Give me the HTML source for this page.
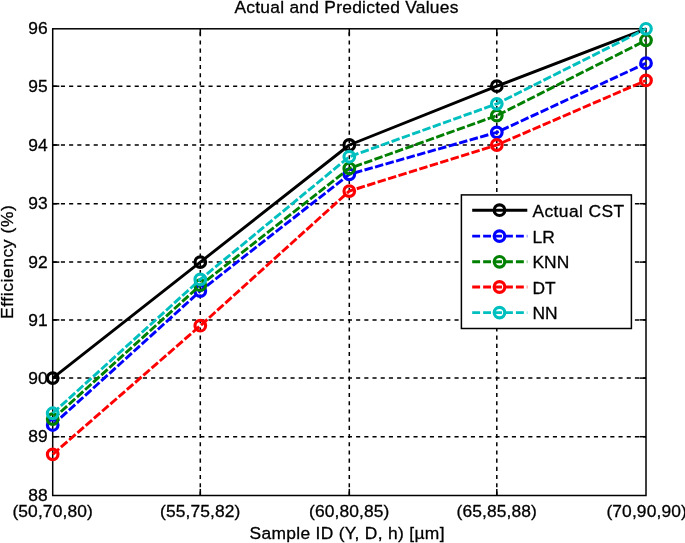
<!DOCTYPE html>
<html><head><meta charset="utf-8"><title>Actual and Predicted Values</title>
<style>
html,body{margin:0;padding:0;background:#fff;}
body{width:685px;height:543px;overflow:hidden;}
svg{display:block;}
text{font-family:"Liberation Sans",Arial,Helvetica,sans-serif;font-size:17.4px;fill:#000;stroke:#000;stroke-width:0.3px;}
</style></head><body>
<svg width="685" height="543" viewBox="0 0 685 543">
<rect x="0" y="0" width="685" height="543" fill="#ffffff"/>

<g stroke="#000" stroke-width="1.5" stroke-dasharray="4.1 4.1" fill="none">
<line x1="200.30" y1="495.50" x2="200.30" y2="28.80"/>
<line x1="349.30" y1="495.50" x2="349.30" y2="28.80"/>
<line x1="496.80" y1="495.50" x2="496.80" y2="28.80"/>
<line x1="52.70" y1="436.70" x2="646.00" y2="436.70"/>
<line x1="52.70" y1="378.10" x2="646.00" y2="378.10"/>
<line x1="52.70" y1="319.90" x2="646.00" y2="319.90"/>
<line x1="52.70" y1="262.10" x2="646.00" y2="262.10"/>
<line x1="52.70" y1="203.70" x2="646.00" y2="203.70"/>
<line x1="52.70" y1="145.00" x2="646.00" y2="145.00"/>
<line x1="52.70" y1="86.20" x2="646.00" y2="86.20"/>
</g>
<g stroke="#000" stroke-width="1.5" fill="none">
<rect x="52.70" y="28.80" width="593.30" height="466.70"/>
<line x1="200.30" y1="495.50" x2="200.30" y2="488.90"/>
<line x1="200.30" y1="28.80" x2="200.30" y2="35.40"/>
<line x1="349.30" y1="495.50" x2="349.30" y2="488.90"/>
<line x1="349.30" y1="28.80" x2="349.30" y2="35.40"/>
<line x1="496.80" y1="495.50" x2="496.80" y2="488.90"/>
<line x1="496.80" y1="28.80" x2="496.80" y2="35.40"/>
<line x1="52.70" y1="436.70" x2="59.30" y2="436.70"/>
<line x1="646.00" y1="436.70" x2="639.40" y2="436.70"/>
<line x1="52.70" y1="378.10" x2="59.30" y2="378.10"/>
<line x1="646.00" y1="378.10" x2="639.40" y2="378.10"/>
<line x1="52.70" y1="319.90" x2="59.30" y2="319.90"/>
<line x1="646.00" y1="319.90" x2="639.40" y2="319.90"/>
<line x1="52.70" y1="262.10" x2="59.30" y2="262.10"/>
<line x1="646.00" y1="262.10" x2="639.40" y2="262.10"/>
<line x1="52.70" y1="203.70" x2="59.30" y2="203.70"/>
<line x1="646.00" y1="203.70" x2="639.40" y2="203.70"/>
<line x1="52.70" y1="145.00" x2="59.30" y2="145.00"/>
<line x1="646.00" y1="145.00" x2="639.40" y2="145.00"/>
<line x1="52.70" y1="86.20" x2="59.30" y2="86.20"/>
<line x1="646.00" y1="86.20" x2="639.40" y2="86.20"/>
</g>
<polyline points="52.70,378.10 200.30,262.10 349.30,145.00 496.80,86.20 646.00,28.80" fill="none" stroke="#000000" stroke-width="2.9" stroke-linejoin="round"/>
<g fill="none" stroke="#000000" stroke-width="3.2">
<circle cx="52.70" cy="378.10" r="5.3"/>
<circle cx="200.30" cy="262.10" r="5.3"/>
<circle cx="349.30" cy="145.00" r="5.3"/>
<circle cx="496.80" cy="86.20" r="5.3"/>
</g>
<polyline points="52.70,424.98 200.30,291.00 349.30,174.35 496.80,132.36 646.00,63.24" fill="none" stroke="#0000ff" stroke-width="2.9" stroke-dasharray="8.5 2.43" stroke-linejoin="round"/>
<g fill="none" stroke="#0000ff" stroke-width="3.2">
<circle cx="52.70" cy="424.98" r="5.3"/>
<circle cx="200.30" cy="291.00" r="5.3"/>
<circle cx="349.30" cy="174.35" r="5.3"/>
<circle cx="496.80" cy="132.36" r="5.3"/>
<circle cx="646.00" cy="63.24" r="5.3"/>
</g>
<polyline points="52.70,419.12 200.30,285.22 349.30,168.48 496.80,115.60 646.00,40.28" fill="none" stroke="#008000" stroke-width="2.9" stroke-dasharray="8.5 2.43" stroke-linejoin="round"/>
<g fill="none" stroke="#008000" stroke-width="3.2">
<circle cx="52.70" cy="419.12" r="5.3"/>
<circle cx="200.30" cy="285.22" r="5.3"/>
<circle cx="349.30" cy="168.48" r="5.3"/>
<circle cx="496.80" cy="115.60" r="5.3"/>
<circle cx="646.00" cy="40.28" r="5.3"/>
</g>
<polyline points="52.70,454.34 200.30,325.72 349.30,191.08 496.80,145.00 646.00,80.46" fill="none" stroke="#ff0000" stroke-width="2.9" stroke-dasharray="8.5 2.43" stroke-linejoin="round"/>
<g fill="none" stroke="#ff0000" stroke-width="3.2">
<circle cx="52.70" cy="454.34" r="5.3"/>
<circle cx="200.30" cy="325.72" r="5.3"/>
<circle cx="349.30" cy="191.08" r="5.3"/>
<circle cx="496.80" cy="145.00" r="5.3"/>
<circle cx="646.00" cy="80.46" r="5.3"/>
</g>
<polyline points="52.70,413.26 200.30,279.44 349.30,156.74 496.80,103.84 646.00,28.80" fill="none" stroke="#00bfbf" stroke-width="2.9" stroke-dasharray="8.5 2.43" stroke-linejoin="round"/>
<g fill="none" stroke="#00bfbf" stroke-width="3.2">
<circle cx="52.70" cy="413.26" r="5.3"/>
<circle cx="200.30" cy="279.44" r="5.3"/>
<circle cx="349.30" cy="156.74" r="5.3"/>
<circle cx="496.80" cy="103.84" r="5.3"/>
<circle cx="646.00" cy="28.80" r="5.3"/>
</g>
<rect x="461.40" y="194.90" width="170.00" height="133.60" fill="#fff" stroke="#000" stroke-width="1.5"/>
<line x1="472.2" y1="210.20" x2="527.3" y2="210.20" stroke="#000000" stroke-width="2.9"/>
<circle cx="499.5" cy="210.20" r="5.3" fill="none" stroke="#000000" stroke-width="3.2"/>
<text x="532.5" y="216.70" textLength="91.6" lengthAdjust="spacing">Actual CST</text>
<line x1="472.2" y1="236.10" x2="527.3" y2="236.10" stroke="#0000ff" stroke-width="2.9" stroke-dasharray="7.9 3.03"/>
<circle cx="499.5" cy="236.10" r="5.3" fill="none" stroke="#0000ff" stroke-width="3.2"/>
<text x="532.5" y="242.60">LR</text>
<line x1="472.2" y1="261.80" x2="527.3" y2="261.80" stroke="#008000" stroke-width="2.9" stroke-dasharray="7.9 3.03"/>
<circle cx="499.5" cy="261.80" r="5.3" fill="none" stroke="#008000" stroke-width="3.2"/>
<text x="532.5" y="268.30">KNN</text>
<line x1="472.2" y1="287.00" x2="527.3" y2="287.00" stroke="#ff0000" stroke-width="2.9" stroke-dasharray="7.9 3.03"/>
<circle cx="499.5" cy="287.00" r="5.3" fill="none" stroke="#ff0000" stroke-width="3.2"/>
<text x="532.5" y="293.50">DT</text>
<line x1="472.2" y1="312.60" x2="527.3" y2="312.60" stroke="#00bfbf" stroke-width="2.9" stroke-dasharray="7.9 3.03"/>
<circle cx="499.5" cy="312.60" r="5.3" fill="none" stroke="#00bfbf" stroke-width="3.2"/>
<text x="532.5" y="319.10">NN</text>
<text x="47.6" y="501.10" text-anchor="end">88</text>
<text x="47.6" y="442.30" text-anchor="end">89</text>
<text x="47.6" y="383.70" text-anchor="end">90</text>
<text x="47.6" y="325.50" text-anchor="end">91</text>
<text x="47.6" y="267.70" text-anchor="end">92</text>
<text x="47.6" y="209.30" text-anchor="end">93</text>
<text x="47.6" y="150.60" text-anchor="end">94</text>
<text x="47.6" y="91.80" text-anchor="end">95</text>
<text x="47.6" y="34.40" text-anchor="end">96</text>
<text x="12.40" y="516.8" textLength="80.4" lengthAdjust="spacing">(50,70,80)</text>
<text x="160.00" y="516.8" textLength="80.4" lengthAdjust="spacing">(55,75,82)</text>
<text x="309.00" y="516.8" textLength="80.4" lengthAdjust="spacing">(60,80,85)</text>
<text x="456.50" y="516.8" textLength="80.4" lengthAdjust="spacing">(65,85,88)</text>
<text x="606.40" y="516.8" textLength="80.4" lengthAdjust="spacing">(70,90,90)</text>
<text x="234.4" y="13.2" textLength="224" lengthAdjust="spacing">Actual and Predicted Values</text>
<text x="249.5" y="539.1" textLength="195" lengthAdjust="spacing">Sample ID (Y, D, h) [µm]</text>
<text transform="translate(12.5,319) rotate(-90)" x="0" y="0" textLength="113.8" lengthAdjust="spacing">Efficiency (%)</text>
</svg></body></html>
